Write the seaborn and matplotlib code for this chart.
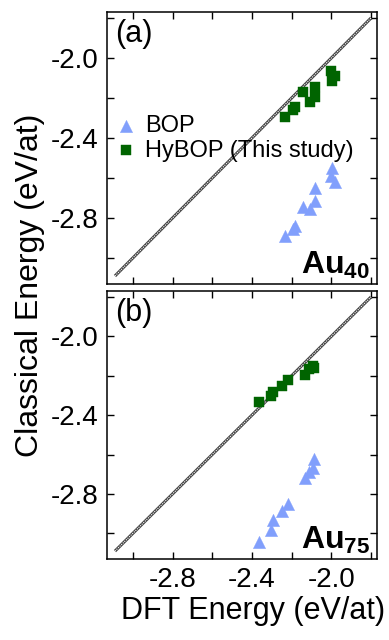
import matplotlib
matplotlib.use("Agg")
import matplotlib.pyplot as plt
from matplotlib.ticker import MultipleLocator
import seaborn as sns
import pandas as pd

# ---- data (eV/atom) ----
dft_a   = [-2.235, -2.195, -2.182, -2.145, -2.107, -2.084, -2.082, -2.004, -1.996, -1.982]
hybop_a = [-2.294, -2.262, -2.244, -2.168, -2.218, -2.143, -2.193, -2.067, -2.117, -2.092]
bop_a   = [-2.890, -2.856, -2.840, -2.747, -2.756, -2.714, -2.651, -2.588, -2.551, -2.618]

dft_b   = [-2.362, -2.304, -2.293, -2.248, -2.220, -2.132, -2.115, -2.090, -2.087]
hybop_b = [-2.335, -2.305, -2.285, -2.253, -2.224, -2.195, -2.166, -2.149, -2.159]
bop_b   = [-3.046, -2.985, -2.932, -2.886, -2.853, -2.720, -2.691, -2.669, -2.623]

diag_range = [-3.09, -1.80]
series_names = ["BOP", "HyBOP (This study)"]
panel_labels = ["(a)", "(b)"]
cluster_labels = [r"$\mathbf{Au}_{\mathbf{40}}$", r"$\mathbf{Au}_{\mathbf{75}}$"]
lims = (-3.13, -1.77)

sns.set_theme(style="ticks")
plt.rcParams["font.family"] = ["Liberation Sans", "DejaVu Sans"]
plt.rcParams["axes.unicode_minus"] = False
plt.rcParams["text.color"] = "black"
plt.rcParams["xtick.color"] = "black"
plt.rcParams["ytick.color"] = "black"
plt.rcParams["xtick.labelcolor"] = "black"
plt.rcParams["ytick.labelcolor"] = "black"
plt.rcParams["mathtext.fontset"] = "custom"
plt.rcParams["mathtext.rm"] = "Liberation Sans"
plt.rcParams["mathtext.bf"] = "Liberation Sans:bold"

fig = plt.figure(figsize=(3.89, 6.40), dpi=100)
W, H = 389, 640
def pos(l, t, r, b):
    return [l / W, 1 - b / H, (r - l) / W, (b - t) / H]

ax1 = fig.add_axes(pos(107, 12, 377, 284))
ax2 = fig.add_axes(pos(107, 291, 377, 559))

palette = {"BOP": "#819ffc", "HyBOP (This study)": "#006400"}
markers = {"BOP": "^", "HyBOP (This study)": "s"}
sizes = {"BOP": 78, "HyBOP (This study)": 52}

def make_df(dft, bop, hyb):
    return pd.DataFrame({
        "DFT": list(dft) + list(dft),
        "Classical": list(bop) + list(hyb),
        "Model": [series_names[0]] * len(bop) + [series_names[1]] * len(hyb),
    })

panels = [(ax1, make_df(dft_a, bop_a, hybop_a)), (ax2, make_df(dft_b, bop_b, hybop_b))]

for i, (ax, df) in enumerate(panels):
    ax.plot(diag_range, diag_range, color="#444444", lw=2.2, zorder=1, solid_capstyle="butt")
    ax.plot(diag_range, diag_range, color="white", lw=0.8, ls=(0, (1, 1)), zorder=1.1)
    for name in series_names:
        sub = df[df["Model"] == name]
        sns.scatterplot(data=sub, x="DFT", y="Classical", ax=ax, color=palette[name],
                        marker=markers[name], s=sizes[name], edgecolor=palette[name],
                        linewidth=0.3, label=name, zorder=3, legend=(i == 0))
    ax.set_xlim(lims)
    ax.set_ylim(lims)
    for axis in (ax.xaxis, ax.yaxis):
        axis.set_major_locator(MultipleLocator(0.4))
        axis.set_minor_locator(MultipleLocator(0.2))
    ax.set_xticks([-2.8, -2.4, -2.0])
    ax.set_yticks([-2.8, -2.4, -2.0])
    ax.tick_params(which="both", direction="in", top=True, right=True,
                   length=5, width=1.0, labelsize=20, pad=6, color="black",
                   labelcolor="black")
    for s in ax.spines.values():
        s.set_linewidth(1.1)
        s.set_color("black")
    ax.set_xlabel("")
    ax.set_ylabel("")
    ax.text(0.03, 0.975, panel_labels[i], transform=ax.transAxes, ha="left", va="top",
            fontsize=22, color="black")
    ax.text(0.975, 0.012, cluster_labels[i], transform=ax.transAxes, ha="right", va="bottom",
            fontsize=23, color="black")

ax1.tick_params(labelbottom=False)
ax2.tick_params(labelbottom=True)

leg = ax1.legend(loc="center left", bbox_to_anchor=(0.035, 0.535), frameon=False,
                 fontsize=17, handlelength=0.8, handletextpad=0.4, borderpad=0,
                 borderaxespad=0, labelspacing=0.1, markerscale=1.0)
for t in leg.get_texts():
    t.set_color("black")

fig.text(30 / W, 1 - 285 / H, "Classical Energy (eV/at)", rotation=90,
         ha="center", va="center", fontsize=23, color="black")
fig.text(253 / W, 1 - 611 / H, "DFT Energy (eV/at)", ha="center", va="center",
         fontsize=22, color="black")

fig.savefig("out.png", dpi=100)
